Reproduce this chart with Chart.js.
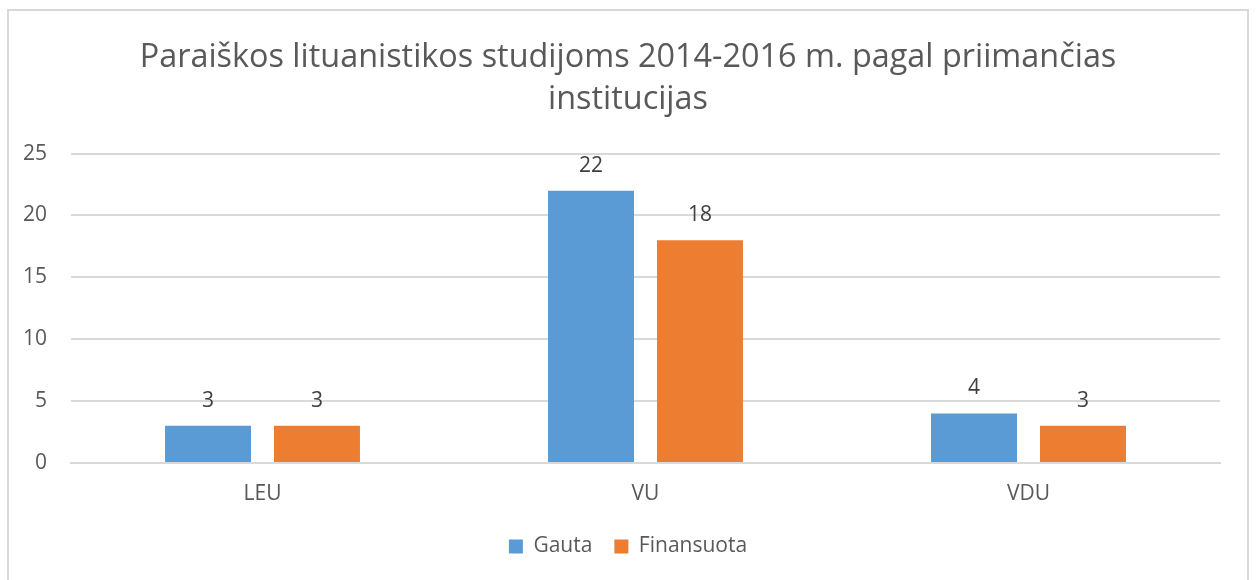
<!DOCTYPE html>
<html>
<head>
<meta charset="utf-8">
<script src="https://cdn.jsdelivr.net/npm/chart.js@4/dist/chart.umd.min.js"></script>
<style>
html,body{margin:0;padding:0;background:#fff;}
#wrap{width:1256px;height:580px;position:relative;}
</style>
</head>
<body>
<div id="wrap"><canvas id="c" width="1256" height="580"></canvas></div>
<script>
const titleLines = ["Paraiškos lituanistikos studijoms 2014-2016 m. pagal priimančias", "institucijas"];
const categories = ["LEU", "VU", "VDU"];
const seriesNames = ["Gauta", "Finansuota"];
const gautaValues = [3, 22, 4];
const finansuotaValues = [3, 18, 3];
const yTicks = [0, 5, 10, 15, 20, 25];

const FONT = "'Open Sans', 'Noto Sans', sans-serif";

const frame = {
  id: 'frame',
  beforeDraw(chart) {
    const ctx = chart.ctx;
    ctx.save();
    ctx.fillStyle = '#fff';
    ctx.fillRect(0, 0, chart.width, chart.height);
    ctx.strokeStyle = '#d9d9d9';
    ctx.lineWidth = 2;
    ctx.strokeRect(8, 10, 1240, 600);
    ctx.restore();
  }
};

const valueLabels = {
  id: 'valueLabels',
  afterDatasetsDraw(chart) {
    const ctx = chart.ctx;
    ctx.save();
    ctx.font = "21px " + FONT;
    ctx.fillStyle = '#404040';
    ctx.textAlign = 'center';
    ctx.textBaseline = 'middle';
    chart.data.datasets.forEach((ds, i) => {
      const meta = chart.getDatasetMeta(i);
      meta.data.forEach((bar, j) => {
        ctx.fillText(String(ds.data[j]), bar.x, bar.y - 25);
      });
    });
    ctx.restore();
  }
};

new Chart(document.getElementById('c'), {
  type: 'bar',
  data: {
    labels: categories,
    datasets: [
      { label: seriesNames[0], data: gautaValues, backgroundColor: '#5b9bd5', categoryPercentage: 0.569, barPercentage: 0.789 },
      { label: seriesNames[1], data: finansuotaValues, backgroundColor: '#ed7d31', categoryPercentage: 0.569, barPercentage: 0.789 }
    ]
  },
  options: {
    responsive: false,
    animation: false,
    devicePixelRatio: 1,
    layout: { padding: { left: 0, right: 0, top: 0, bottom: 13 } },
    plugins: {
      title: {
        display: true,
        text: titleLines,
        color: '#595959',
        font: { family: FONT, size: 32.4, weight: 'normal', lineHeight: 1.32 },
        padding: { top: 36, bottom: 32 }
      },
      legend: {
        position: 'bottom',
        labels: {
          color: '#595959',
          font: { family: FONT, size: 21 },
          boxWidth: 14,
          boxHeight: 14,
          padding: 22
        }
      },
      tooltip: { enabled: false }
    },
    scales: {
      x: {
        afterFit(scale) { scale.height = 51; },
        grid: { display: false, drawTicks: false },
        border: { display: true, color: '#d9d9d9', width: 2 },
        ticks: { color: '#595959', font: { family: FONT, size: 21 }, padding: 18 }
      },
      y: {
        min: 0, max: 25,
        afterFit(scale) { scale.width = 71; },
        afterBuildTicks(scale) { scale.ticks = yTicks.map(v => ({ value: v })); },
        grid: { color: '#d9d9d9', lineWidth: 2, drawTicks: false },
        border: { display: false },
        ticks: { color: '#595959', font: { family: FONT, size: 21 }, padding: 24 }
      },
      yRight: {
        position: 'right',
        min: 0, max: 25,
        afterFit(scale) { scale.width = 36; },
        grid: { display: false, drawTicks: false },
        border: { display: false },
        ticks: { display: false }
      }
    }
  },
  plugins: [frame, valueLabels]
});
</script>
</body>
</html>
